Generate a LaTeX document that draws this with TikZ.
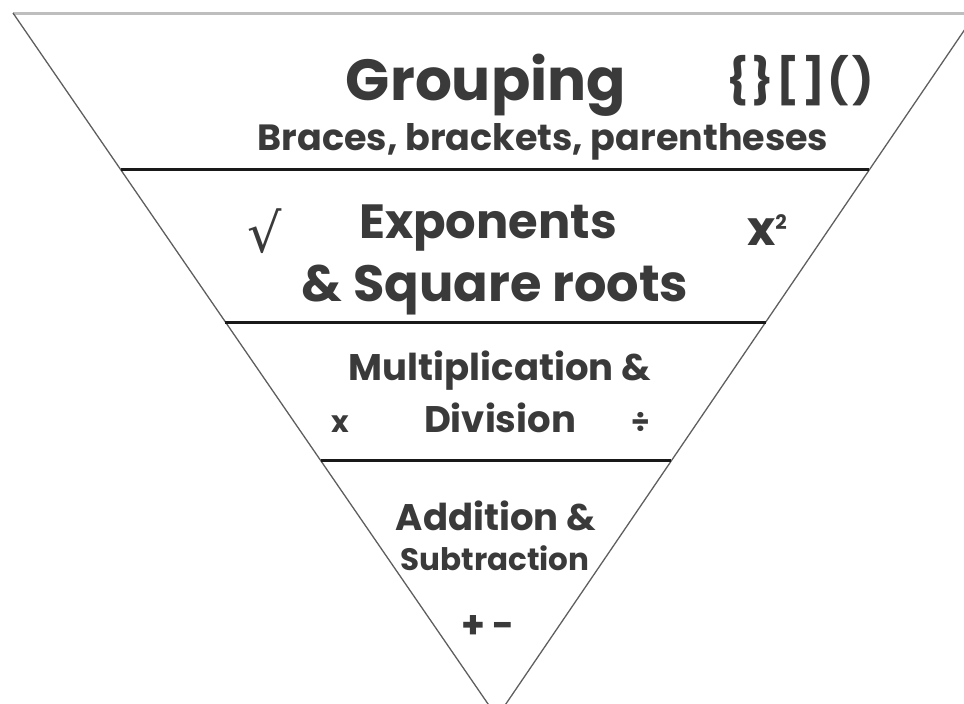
\documentclass[tikz,border=0pt]{standalone}
\usepackage{fontspec}
\setmainfont{Poppins}
\newfontfamily\symfont{DejaVu Sans}
\usetikzlibrary{calc}
\definecolor{inkcol}{RGB}{58, 58, 58}
\definecolor{rimcol}{RGB}{190, 190, 190}
\definecolor{sidecol}{RGB}{95, 95, 95}
\definecolor{bandcol}{RGB}{25, 25, 25}
\tikzset{
  word/.style  = {inner sep=0pt, anchor=base, text=inkcol},
  huge/.style  = {word, font=\fontsize{58}{58}\selectfont\bfseries},
  large/.style = {word, font=\fontsize{48}{48}\selectfont\bfseries},
  mid/.style   = {word, font=\fontsize{37}{37}\selectfont\bfseries},
  small/.style = {word, font=\fontsize{31}{31}\selectfont\bfseries},
  sym/.style   = {word, font=\fontsize{30}{30}\selectfont\bfseries},
  rim/.style   = {draw=rimcol, line width=3pt},
  side/.style  = {draw=sidecol, line width=1.3pt},
  band/.style  = {draw=bandcol, line width=3pt},
}

\begin{document}
\begin{tikzpicture}[x=1pt, y=-1pt]
  \useasboundingbox (0,0) rectangle (964,704);

  %% ---------------- the funnel ----------------
  \coordinate (tl) at (13,13);
  \coordinate (tr) at (976,13);
  \coordinate (tip) at (497,717);

  \draw[rim]  (tl) -- (tr);
  \draw[side] (tl) -- (tip) -- (tr);

  %% ---------------- the bands ----------------
  \draw[band] ($(tl)!0.223!(tip)$) -- ($(tr)!0.223!(tip)$);
  \draw[band] ($(tl)!0.439!(tip)$) -- ($(tr)!0.439!(tip)$);
  \draw[band] ($(tl)!0.636!(tip)$) -- ($(tr)!0.636!(tip)$);

  %% ---------------- grouping ----------------
  \node[huge] (grp) at (486,100) {Grouping};
  \node[word, font=\fontsize{45}{45}\selectfont\bfseries
        \addfontfeature{LetterSpace=6}] (brk) at (800,96) {\{\}[]()};
  \node[word, font=\fontsize{36.5}{36.5}\selectfont\bfseries] (brc)
       at (543,150) {Braces, brackets, parentheses};

  %% ---------------- exponents ----------------
  \node[large] (exp) at (488,238) {Exponents};
  \node[word, font=\fontsize{51}{51}\selectfont\bfseries] (sqr)
       at (495,301) {\& Square roots};
  \node[word, font=\fontsize{54}{54}\selectfont\symfont] (rt) at (265,252)
       {√};
  \node[large] (pow) at (767,245)
       {x\raisebox{16pt}{\fontsize{20}{20}\selectfont 2}};

  %% ---------------- multiplication ----------------
  \node[mid] (mul) at (500,380) {Multiplication \&};
  \node[mid] (dvs) at (500,432) {Division};
  \node[sym] (tms) at (340,432) {x};
  \node[sym] (obl) at (641,432) {÷};

  %% ---------------- addition ----------------
  \node[mid] (add) at (496,530) {Addition \&};
  \node[small] (sub) at (495,570) {Subtraction};
  \node[word, font=\fontsize{38}{38}\selectfont\bfseries] (pm)
       at (488,638) {+ -};

\end{tikzpicture}
\end{document}
